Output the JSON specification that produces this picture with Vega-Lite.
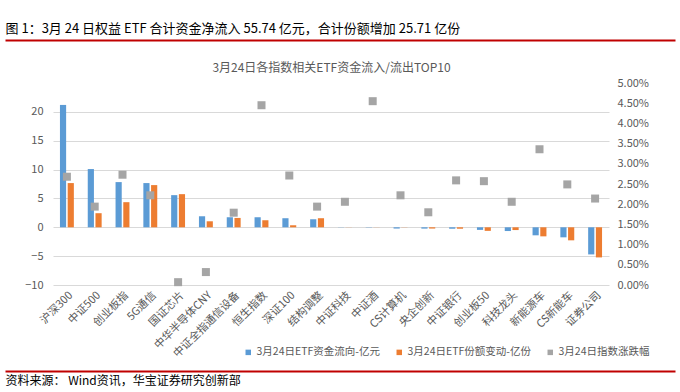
{
  "$schema": "https://vega.github.io/schema/vega-lite/v6.json",
  "width": 556,
  "height": 202,
  "autosize": {"type": "none"},
  "padding": {"left": 53, "top": 83, "right": 71, "bottom": 107},
  "background": "white",
  "config": {
    "font": "Noto Sans CJK SC",
    "view": {"stroke": null},
    "axis": {"labelFont": "Noto Sans CJK SC", "titleFont": "Noto Sans CJK SC"},
    "legend": {"labelFont": "Noto Sans CJK SC"}
  },
  "datasets": {
    "flows": [
      {"name": "沪深300", "series": "3月24日ETF资金流向-亿元", "value": 21.2},
      {"name": "沪深300", "series": "3月24日ETF份额变动-亿份", "value": 7.66},
      {"name": "中证500", "series": "3月24日ETF资金流向-亿元", "value": 10.09},
      {"name": "中证500", "series": "3月24日ETF份额变动-亿份", "value": 2.44},
      {"name": "创业板指", "series": "3月24日ETF资金流向-亿元", "value": 7.83},
      {"name": "创业板指", "series": "3月24日ETF份额变动-亿份", "value": 4.35},
      {"name": "5G通信", "series": "3月24日ETF资金流向-亿元", "value": 7.66},
      {"name": "5G通信", "series": "3月24日ETF份额变动-亿份", "value": 7.31},
      {"name": "国证芯片", "series": "3月24日ETF资金流向-亿元", "value": 5.57},
      {"name": "国证芯片", "series": "3月24日ETF份额变动-亿份", "value": 5.74},
      {"name": "中华半导体CNY", "series": "3月24日ETF资金流向-亿元", "value": 1.91},
      {"name": "中华半导体CNY", "series": "3月24日ETF份额变动-亿份", "value": 1.04},
      {"name": "中证全指通信设备", "series": "3月24日ETF资金流向-亿元", "value": 1.74},
      {"name": "中证全指通信设备", "series": "3月24日ETF份额变动-亿份", "value": 1.62},
      {"name": "恒生指数", "series": "3月24日ETF资金流向-亿元", "value": 1.74},
      {"name": "恒生指数", "series": "3月24日ETF份额变动-亿份", "value": 1.22},
      {"name": "深证100", "series": "3月24日ETF资金流向-亿元", "value": 1.57},
      {"name": "深证100", "series": "3月24日ETF份额变动-亿份", "value": 0.35},
      {"name": "结构调整", "series": "3月24日ETF资金流向-亿元", "value": 1.39},
      {"name": "结构调整", "series": "3月24日ETF份额变动-亿份", "value": 1.57},
      {"name": "中证科技", "series": "3月24日ETF资金流向-亿元", "value": -0.03},
      {"name": "中证科技", "series": "3月24日ETF份额变动-亿份", "value": -0.02},
      {"name": "中证酒", "series": "3月24日ETF资金流向-亿元", "value": -0.05},
      {"name": "中证酒", "series": "3月24日ETF份额变动-亿份", "value": -0.02},
      {"name": "CS计算机", "series": "3月24日ETF资金流向-亿元", "value": -0.22},
      {"name": "CS计算机", "series": "3月24日ETF份额变动-亿份", "value": -0.03},
      {"name": "央企创新", "series": "3月24日ETF资金流向-亿元", "value": -0.23},
      {"name": "央企创新", "series": "3月24日ETF份额变动-亿份", "value": -0.22},
      {"name": "中证银行", "series": "3月24日ETF资金流向-亿元", "value": -0.25},
      {"name": "中证银行", "series": "3月24日ETF份额变动-亿份", "value": -0.25},
      {"name": "创业板50", "series": "3月24日ETF资金流向-亿元", "value": -0.45},
      {"name": "创业板50", "series": "3月24日ETF份额变动-亿份", "value": -0.62},
      {"name": "科技龙头", "series": "3月24日ETF资金流向-亿元", "value": -0.65},
      {"name": "科技龙头", "series": "3月24日ETF份额变动-亿份", "value": -0.48},
      {"name": "新能源车", "series": "3月24日ETF资金流向-亿元", "value": -1.39},
      {"name": "新能源车", "series": "3月24日ETF份额变动-亿份", "value": -1.57},
      {"name": "CS新能车", "series": "3月24日ETF资金流向-亿元", "value": -1.74},
      {"name": "CS新能车", "series": "3月24日ETF份额变动-亿份", "value": -2.26},
      {"name": "证券公司", "series": "3月24日ETF资金流向-亿元", "value": -4.7},
      {"name": "证券公司", "series": "3月24日ETF份额变动-亿份", "value": -5.22}
    ],
    "pct": [
      {"name": "沪深300", "series": "3月24日指数涨跌幅", "pct": 0.0268},
      {"name": "中证500", "series": "3月24日指数涨跌幅", "pct": 0.0194},
      {"name": "创业板指", "series": "3月24日指数涨跌幅", "pct": 0.0273},
      {"name": "5G通信", "series": "3月24日指数涨跌幅", "pct": 0.0222},
      {"name": "国证芯片", "series": "3月24日指数涨跌幅", "pct": 0.0007},
      {"name": "中华半导体CNY", "series": "3月24日指数涨跌幅", "pct": 0.0032},
      {"name": "中证全指通信设备", "series": "3月24日指数涨跌幅", "pct": 0.0179},
      {"name": "恒生指数", "series": "3月24日指数涨跌幅", "pct": 0.0445},
      {"name": "深证100", "series": "3月24日指数涨跌幅", "pct": 0.0271},
      {"name": "结构调整", "series": "3月24日指数涨跌幅", "pct": 0.0194},
      {"name": "中证科技", "series": "3月24日指数涨跌幅", "pct": 0.0206},
      {"name": "中证酒", "series": "3月24日指数涨跌幅", "pct": 0.0455},
      {"name": "CS计算机", "series": "3月24日指数涨跌幅", "pct": 0.0222},
      {"name": "央企创新", "series": "3月24日指数涨跌幅", "pct": 0.018},
      {"name": "中证银行", "series": "3月24日指数涨跌幅", "pct": 0.0259},
      {"name": "创业板50", "series": "3月24日指数涨跌幅", "pct": 0.0257},
      {"name": "科技龙头", "series": "3月24日指数涨跌幅", "pct": 0.0206},
      {"name": "新能源车", "series": "3月24日指数涨跌幅", "pct": 0.0336},
      {"name": "CS新能车", "series": "3月24日指数涨跌幅", "pct": 0.0249},
      {"name": "证券公司", "series": "3月24日指数涨跌幅", "pct": 0.0214}
    ],
    "one": [{"v": 0}]
  },
  "layer": [
    {
      "layer": [
        {
          "data": {"name": "flows"},
          "mark": {"type": "bar"},
          "encoding": {
            "x": {
              "field": "name", "type": "nominal", "sort": null,
              "scale": {"paddingInner": 0.5, "paddingOuter": 0.25},
              "axis": {"title": null, "labelAngle": -45, "labelFontSize": 11, "labelColor": "#595959", "domain": false, "ticks": false, "grid": false, "labelPadding": 4}
            },
            "xOffset": {"field": "series", "type": "nominal", "sort": null, "scale": {"paddingInner": 0.2, "paddingOuter": 0}},
            "y": {
              "field": "value", "type": "quantitative",
              "scale": {"domain": [-10, 25], "nice": false, "zero": false},
              "axis": {"title": null, "values": [-10, -5, 0, 5, 10, 15, 20], "labelFontSize": 11, "labelColor": "#595959", "domain": false, "ticks": false, "grid": true, "gridColor": "#D9D9D9", "labelPadding": 10}
            },
            "color": {
              "field": "series", "type": "nominal",
              "scale": {"domain": ["3月24日ETF资金流向-亿元", "3月24日ETF份额变动-亿份", "3月24日指数涨跌幅"], "range": ["#5B9BD5", "#ED7D31", "#A5A5A5"]},
              "legend": {"orient": "none", "legendX": 190, "legendY": 264, "direction": "horizontal", "title": null, "symbolType": "square", "symbolSize": 30, "symbolStrokeWidth": 0, "labelFontSize": 10.5, "labelColor": "#595959", "columnPadding": 14, "labelOffset": 3}
            }
          }
        },
        {
          "data": {"name": "pct"},
          "mark": {"type": "square", "size": 64, "opacity": 1},
          "encoding": {
            "x": {"field": "name", "type": "nominal", "sort": null},
            "y": {
              "field": "pct", "type": "quantitative",
              "scale": {"domain": [0, 0.05], "nice": false},
              "axis": {"orient": "right", "title": null, "values": [0, 0.005, 0.01, 0.015, 0.02, 0.025, 0.03, 0.035, 0.04, 0.045, 0.05], "format": ".2%", "labelFontSize": 11, "labelColor": "#595959", "domain": false, "ticks": false, "grid": false, "labelPadding": 8}
            },
            "color": {"field": "series", "type": "nominal"}
          }
        }
      ],
      "resolve": {"scale": {"y": "independent"}}
    },
    {
      "data": {"name": "one"},
      "mark": {"type": "point", "opacity": 0},
      "encoding": {
        "x": {"field": "v", "type": "quantitative", "axis": {"orient": "top", "title": "3月24日各指数相关ETF资金流入/流出TOP10", "labels": false, "ticks": false, "domain": false, "grid": false, "titleFontSize": 12, "titleFontWeight": "normal", "titleColor": "#595959", "titlePadding": 9}}
      }
    },
    {
      "data": {"name": "one"},
      "mark": {"type": "point", "opacity": 0},
      "encoding": {
        "x": {"field": "v", "type": "quantitative", "scale": {"domain": [0, 1], "range": [-48, 622]}, "axis": {"orient": "top", "offset": 43, "title": "图 1：3月 24 日权益 ETF 合计资金净流入 55.74 亿元，合计份额增加 25.71 亿份", "titleAnchor": "start", "titleAlign": "left", "labels": false, "ticks": false, "domain": true, "domainColor": "#C00000", "domainWidth": 2, "grid": false, "titleFontSize": 13, "titleFontWeight": "normal", "titleColor": "#000000", "titlePadding": 5}}
      }
    },
    {
      "data": {"name": "one"},
      "mark": {"type": "point", "opacity": 0},
      "encoding": {
        "x": {"field": "v", "type": "quantitative", "scale": {"domain": [0, 1], "range": [-48, 622]}, "axis": {"orient": "bottom", "offset": 86, "title": "资料来源：  Wind资讯，华宝证券研究创新部", "titleAnchor": "start", "titleAlign": "left", "labels": false, "ticks": false, "domain": true, "domainColor": "#C00000", "domainWidth": 2, "grid": false, "titleFontSize": 12, "titleFontWeight": "normal", "titleColor": "#000000", "titlePadding": 4}}
      }
    }
  ],
  "resolve": {"scale": {"x": "independent", "y": "independent"}, "axis": {"x": "independent"}}
}
